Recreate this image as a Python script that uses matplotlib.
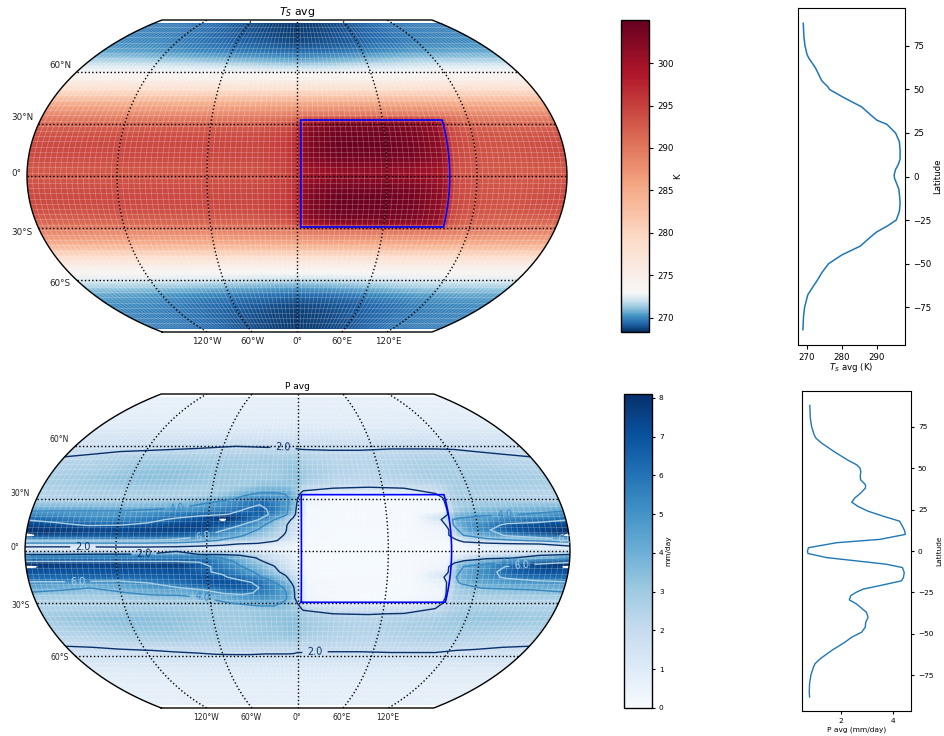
import numpy as np
import matplotlib
matplotlib.use("Agg")
import matplotlib.pyplot as plt
from matplotlib.colors import ListedColormap, Normalize
from matplotlib.cm import ScalarMappable
from matplotlib.patches import Polygon
from matplotlib.collections import LineCollection

W, H = 944, 736

# ---- zonal-mean profiles (lat, value) ----
TS_LAT = [88,80,75,70,68,62.4,55,51.4,50,45,40,35,32.3,30,25,20,15,10,7,4,1,-1,-4,-7,-10,-15,-20,-25,-28,-32,-35,-40,-45,-50,-55,-60,-63,-68,-75,-80,-88]
TS_AVG = [268.9,269.1,269.4,270,270.5,272.4,274.2,276,276.4,280.8,285.6,288.4,290,292.8,295.3,296.4,296.6,296.6,296.1,295.3,294.9,295,295.6,296.2,296.4,296.6,296.4,295.5,293.3,289.8,288,285.2,280,276.2,274.3,272.8,271.8,270.2,269.3,269,268.8]
P_LAT = [87.8,80,75,70,68,65,60,55,52,50,48,45,43,40,38,35,32,29.5,27,24,21,18,15,12,10,7,5,2,0,-1.5,-4,-6.2,-8,-10,-13,-16,-18,-20,-23,-25,-27,-29.5,-32,-37,-40,-43,-46,-49,-52,-55,-60,-65,-68,-70,-75,-80,-85,-88]
P_AVG = [0.8,0.82,0.87,0.97,1.04,1.26,1.73,2.24,2.6,2.73,2.76,2.74,2.75,2.94,2.94,2.76,2.53,2.41,2.64,3.04,3.62,4.25,4.36,4.45,4.47,3.49,1.83,0.75,0.71,0.73,1.45,2.73,3.75,4.36,4.43,4.4,4.32,3.75,2.85,2.57,2.37,2.32,2.6,2.98,3.04,2.95,2.93,2.79,2.41,2.15,1.64,1.2,1.0,0.94,0.84,0.79,0.78,0.79]

# ---- surface temperature field (K), northern half mirrored to the south ----
T_LONS = [-180,-140,-100,-60,-30,-10,-3,0,4,25,50,75,95,99,103,115,140,180]
T_LATS_N = [86.5,80,75,70,66,62,58,55,52,48,44,40,36,33,31,29,26,22,18,14,10,6,3,0]
T_NORTH = [
 [269.7,269.6,269.3,268.9,268.7,268.6,268.6,268.6,268.6,268.7,268.9,269.2,269.4,269.4,269.5,269.6,269.7,269.7],
 [269.9,269.8,269.5,269.1,268.8,268.7,268.7,268.7,268.7,268.8,269.1,269.3,269.5,269.6,269.6,269.7,269.8,269.9],
 [270.1,270.0,269.7,269.3,269.1,268.9,268.9,268.9,268.9,269.0,269.2,269.5,269.7,269.7,269.8,269.9,270.0,270.1],
 [270.6,270.5,270.2,269.9,269.7,269.5,269.5,269.5,269.5,269.6,269.9,270.2,270.4,270.4,270.5,270.5,270.6,270.6],
 [271.4,271.3,271.1,270.8,270.6,270.5,270.5,270.5,270.5,270.6,270.8,271.1,271.3,271.3,271.4,271.4,271.4,271.4],
 [272.5,272.4,272.3,272.1,271.9,271.8,271.8,271.8,271.8,271.9,272.1,272.2,272.4,272.4,272.4,272.5,272.5,272.5],
 [273.6,273.6,273.5,273.4,273.3,273.2,273.2,273.2,273.2,273.2,273.4,273.5,273.6,273.6,273.6,273.6,273.6,273.6],
 [274.5,274.5,274.4,274.3,274.2,274.2,274.2,274.2,274.2,274.2,274.3,274.4,274.5,274.5,274.5,274.5,274.5,274.5],
 [276.2,276.2,276.1,276.0,276.0,276.0,276.0,276.0,276.0,276.0,276.0,276.1,276.2,276.2,276.2,276.2,276.2,276.2],
 [278.8,278.8,278.7,278.7,278.7,278.7,278.7,278.7,278.7,278.7,278.7,278.7,278.8,278.8,278.8,278.8,278.8,278.8],
 [282.0,282.0,281.9,281.9,282.0,282.1,282.2,282.2,282.2,282.2,282.2,282.1,282.0,282.0,282.0,282.0,282.0,282.0],
 [285.1,285.0,285.0,285.0,285.2,285.4,285.5,285.6,285.6,285.6,285.6,285.5,285.4,285.4,285.3,285.2,285.1,285.1],
 [287.3,287.2,287.2,287.2,287.5,287.8,288.0,288.2,288.2,288.3,288.3,288.2,288.0,287.9,287.8,287.5,287.3,287.3],
 [288.8,288.7,288.7,288.8,289.0,289.4,289.8,290.0,290.3,290.5,290.5,290.4,290.2,290.0,289.8,289.2,288.9,288.8],
 [289.8,289.7,289.8,289.9,290.2,290.8,291.6,293.0,295.5,296.5,296.5,296.3,295.5,293.5,291.5,290.2,289.9,289.8],
 [291.0,291.0,291.1,291.2,291.5,292.5,294.0,296.0,299.0,301.5,301.5,301.0,299.8,296.0,292.8,291.3,290.9,291.0],
 [292.3,292.3,292.5,292.6,293.0,294.0,295.5,298.0,301.3,303.4,303.6,303.0,301.0,297.0,294.0,292.5,292.0,292.3],
 [293.4,293.4,293.6,293.8,294.0,295.0,296.5,299.0,302.2,304.2,304.2,303.5,301.5,297.5,294.5,293.2,292.8,293.4],
 [294.0,294.0,294.2,294.3,294.5,295.3,297.0,299.5,302.4,304.3,304.3,303.7,301.5,297.5,294.5,293.5,293.2,294.0],
 [294.1,294.1,294.2,294.3,294.5,295.3,297.0,299.5,302.4,304.3,304.3,303.7,301.5,297.5,294.5,293.5,293.2,294.1],
 [294.0,294.0,294.1,294.2,294.5,295.3,297.0,299.3,302.2,304.0,304.0,303.4,301.3,297.3,294.5,293.5,293.2,294.0],
 [293.5,293.5,293.6,293.7,294.0,295.0,296.5,298.8,301.3,302.9,302.9,302.4,300.6,297.0,294.2,293.2,293.0,293.5],
 [293.0,293.0,293.1,293.2,293.5,294.6,296.0,298.0,300.2,301.7,301.7,301.2,299.8,296.5,293.8,292.9,292.7,293.0],
 [292.8,292.8,292.9,293.0,293.3,294.3,295.8,297.5,299.4,300.6,300.8,300.3,299.2,296.0,293.5,292.7,292.5,292.8],
]

# ---- precipitation field (mm/day) ----
P_LONS = [-180,-160,-140,-120,-100,-80,-65,-50,-38,-26,-16,-8,-3,0,4,25,50,75,96,100,104,110,125,140,160,180]
P_LATS = [86.5,78,70,64,60,57,54,50,45,40,36,33,30,27,24,21,18,15,12,9,6,4,2,0,-2,-4,-6,-9,-12,-15,-18,-21,-24,-27,-30,-33,-36,-40,-45,-50,-54,-57,-60,-64,-70,-78,-89.5]
P_FIELD = [
 [0.75]*26,
 [0.85]*26,
 [1.0]*26,
 [1.45]*26,
 [1.6,1.65,1.7,1.8,1.85,1.9,1.95,2.0,1.98,1.95,1.95,1.95,1.9,1.9,1.85,1.85,1.85,1.9,1.9,1.9,1.9,1.9,1.85,1.8,1.7,1.6],
 [1.85,1.9,2.0,2.05,2.1,2.15,2.2,2.2,2.2,2.2,2.2,2.2,2.15,2.1,2.1,2.05,2.05,2.1,2.1,2.1,2.1,2.1,2.1,2.0,1.9,1.85],
 [2.0,2.1,2.3,2.4,2.5,2.5,2.5,2.5,2.5,2.6,2.5,2.6,2.5,2.4,2.4,2.2,2.2,2.3,2.4,2.4,2.4,2.4,2.3,2.2,2.1,2.0],
 [2.4,2.5,2.7,2.9,3.0,2.9,2.9,2.9,2.9,3.0,3.0,3.1,3.0,2.8,2.6,2.4,2.4,2.5,2.7,2.7,2.7,2.7,2.6,2.5,2.4,2.4],
 [2.6,2.7,2.9,3.2,3.3,3.2,3.1,3.0,2.9,2.9,3.0,3.2,3.2,3.1,2.9,2.5,2.4,2.6,2.8,2.8,2.8,2.8,2.8,2.8,2.7,2.6],
 [2.8,3.0,3.2,3.4,3.4,3.2,3.1,3.0,3.0,3.0,3.1,3.3,3.3,3.2,2.9,2.4,2.3,2.5,2.8,2.8,2.9,2.9,3.0,3.0,2.9,2.8],
 [2.7,2.8,3.0,3.1,3.1,3.0,2.9,2.9,2.9,3.3,3.3,3.2,3.1,2.7,2.3,2.0,1.95,2.0,2.2,2.4,2.6,2.8,2.9,2.9,2.8,2.7],
 [2.5,2.6,2.7,2.8,2.8,2.7,2.7,3.0,3.7,4.1,4.1,3.9,3.0,2.3,1.7,1.3,1.2,1.3,2.0,2.3,2.6,2.8,2.7,2.6,2.5,2.5],
 [2.4,2.5,2.6,2.6,2.6,2.6,2.8,3.6,4.3,4.7,4.7,4.3,3.2,2.0,0.4,0.15,0.15,0.2,0.5,1.9,2.5,2.7,2.6,2.5,2.4,2.4],
 [2.5,2.5,2.6,2.7,2.9,3.3,4.0,4.8,5.5,5.9,5.3,4.5,3.0,1.8,0.3,0.12,0.12,0.15,0.3,1.8,2.6,2.8,2.8,2.7,2.6,2.5],
 [3.7,3.7,3.7,3.7,3.9,4.2,4.8,5.3,5.9,6.5,5.5,4.4,2.8,1.6,0.25,0.1,0.1,0.12,0.3,1.7,2.6,2.9,3.2,3.4,3.6,3.7],
 [4.5,4.6,4.6,4.6,4.9,5.2,5.6,5.9,6.3,6.7,5.6,4.3,2.6,1.5,0.2,0.1,0.1,0.1,0.3,1.6,2.8,3.4,3.8,3.9,4.1,4.5],
 [5.9,5.4,5.0,5.0,5.5,6.4,7.0,8.15,7.0,6.0,4.1,2.8,1.7,1.0,0.2,0.1,0.1,0.1,1.9,3.0,4.0,4.3,4.5,4.7,5.0,5.9],
 [6.9,6.4,5.8,5.9,6.3,7.0,7.3,7.3,6.1,4.6,3.2,2.2,1.2,0.7,0.2,0.1,0.1,0.1,1.1,2.4,4.0,4.5,5.0,6.4,6.8,6.9],
 [7.7,7.5,7.3,7.2,7.4,7.7,7.5,6.1,5.0,3.9,2.9,2.1,1.3,0.6,0.2,0.1,0.1,0.1,0.5,1.7,3.5,4.6,5.7,7.1,7.4,7.7],
 [8.1,7.7,7.5,7.4,7.5,7.2,6.5,5.0,4.2,3.3,2.5,1.9,1.2,0.5,0.15,0.08,0.08,0.1,0.4,1.9,3.0,4.0,5.0,6.3,7.4,8.1],
 [5.9,5.9,5.9,5.9,5.9,5.6,4.9,3.8,3.3,2.8,2.2,1.6,0.9,0.4,0.15,0.08,0.08,0.1,0.3,0.8,1.5,2.6,3.4,3.7,4.3,5.5],
 [3.3,3.3,3.3,3.3,3.3,3.0,2.6,2.3,1.95,1.8,1.4,1.1,0.7,0.3,0.12,0.08,0.08,0.1,0.2,0.4,0.7,1.1,1.5,1.8,2.0,2.4],
 [1.7,1.7,1.7,1.8,1.8,1.7,1.6,1.5,1.3,1.1,0.9,0.7,0.4,0.2,0.1,0.07,0.07,0.08,0.12,0.2,0.4,0.6,0.9,1.1,1.3,1.7],
 [0.9,0.9,0.9,1.0,1.0,1.95,0.95,0.9,0.8,0.7,0.5,0.4,0.25,0.15,0.08,0.06,0.06,0.07,0.1,0.15,0.25,0.35,0.5,0.6,0.8,0.9],
 [2.0,2.0,2.1,2.1,2.1,2.4,2.0,1.95,1.7,1.2,0.9,0.6,0.4,0.2,0.1,0.07,0.07,0.08,0.12,0.2,0.4,0.7,1.1,1.4,1.8,2.0],
 [5.0,5.0,5.0,5.0,5.0,5.0,4.7,4.0,3.0,1.9,1.4,0.9,0.5,0.3,0.12,0.08,0.08,0.1,0.2,0.4,0.8,1.2,1.7,1.9,2.6,3.6],
 [6.0,6.0,6.0,6.0,6.0,6.0,5.9,4.7,3.6,2.2,1.6,1.1,0.6,0.4,0.15,0.08,0.08,0.1,0.3,0.8,1.5,2.2,3.1,3.6,4.5,5.5],
 [8.1,7.8,7.6,7.6,7.6,7.7,6.6,5.4,4.1,3.2,2.1,1.3,0.7,0.3,0.12,0.08,0.08,0.1,0.4,1.9,3.3,4.0,5.0,6.2,7.6,8.1],
 [7.3,7.2,7.1,7.2,7.2,7.2,6.3,5.7,4.8,3.7,2.4,1.6,0.9,0.4,0.15,0.08,0.08,0.1,0.6,1.9,3.6,4.2,5.4,6.6,7.3,7.3],
 [6.7,6.7,6.8,6.8,6.8,6.9,6.8,6.3,5.2,4.2,3.2,2.2,1.3,0.5,0.15,0.08,0.08,0.1,1.6,2.5,3.8,4.4,5.4,6.3,6.8,6.7],
 [5.9,5.9,5.8,5.7,6.1,6.5,6.9,7.0,6.6,5.6,4.1,2.9,1.7,0.9,0.2,0.1,0.1,0.15,1.0,2.0,3.5,4.2,4.7,5.1,5.6,5.9],
 [4.6,4.3,4.05,4.4,5.2,6.0,6.7,7.0,6.8,6.0,4.9,3.8,2.2,1.2,0.3,0.1,0.1,0.15,0.5,1.9,2.9,3.5,4.1,4.2,4.3,4.5],
 [3.9,3.7,3.4,3.9,4.3,4.4,4.9,6.2,6.4,5.8,5.0,4.1,2.4,1.2,0.3,0.1,0.1,0.15,0.4,1.8,2.7,3.1,3.3,3.4,3.6,3.9],
 [3.1,3.0,2.9,3.2,3.5,3.6,3.9,4.6,5.1,5.4,4.9,4.2,2.4,1.3,0.3,0.12,0.12,0.15,0.4,1.8,2.6,2.8,2.8,2.9,3.0,3.1],
 [2.5,2.5,2.5,2.6,2.8,2.9,3.1,3.8,4.2,4.5,4.3,3.7,2.7,2.0,0.5,0.15,0.15,0.2,0.6,2.0,2.5,2.6,2.5,2.5,2.5,2.5],
 [2.5,2.5,2.6,2.7,2.8,2.8,2.8,3.0,3.2,3.5,3.7,3.3,2.8,2.4,1.8,1.3,1.2,1.3,2.0,2.3,2.5,2.6,2.6,2.5,2.5,2.5],
 [2.7,2.8,2.9,3.0,3.1,3.0,2.9,2.9,3.0,3.1,3.2,3.1,3.0,2.8,2.4,2.0,1.95,2.05,2.3,2.4,2.6,2.8,2.9,2.9,2.8,2.7],
 [3.0,3.2,3.4,3.5,3.4,3.2,3.1,3.0,3.1,3.2,3.3,3.4,3.3,3.1,2.9,2.5,2.4,2.6,2.8,2.9,3.0,3.1,3.2,3.2,3.1,3.0],
 [2.7,2.9,3.1,3.3,3.3,3.1,3.0,2.9,3.0,3.1,3.2,3.4,3.3,3.2,3.0,2.6,2.5,2.7,2.8,2.9,2.9,3.0,3.0,2.9,2.8,2.7],
 [2.4,2.5,2.7,2.9,3.0,2.9,2.9,2.9,3.0,3.1,3.1,3.2,3.1,3.0,2.8,2.5,2.4,2.5,2.7,2.7,2.7,2.7,2.6,2.5,2.4,2.4],
 [2.05,2.1,2.3,2.4,2.5,2.5,2.5,2.5,2.6,2.6,2.5,2.6,2.5,2.4,2.4,2.3,2.2,2.3,2.4,2.4,2.4,2.4,2.3,2.2,2.1,2.05],
 [1.8,1.85,1.9,1.98,2.05,2.1,2.15,2.2,2.2,2.2,2.2,2.2,2.15,2.1,2.1,2.05,2.05,2.1,2.1,2.1,2.1,2.1,2.0,1.95,1.85,1.8],
 [1.6,1.65,1.7,1.75,1.85,1.9,1.95,1.95,1.95,1.9,1.9,1.9,1.9,1.85,1.85,1.85,1.85,1.85,1.85,1.85,1.85,1.85,1.8,1.75,1.7,1.6],
 [1.45]*26,
 [1.05]*26,
 [0.85]*26,
 [0.78]*26,
]

LAT_TICKS = [60, 30, 0, -30, -60]
LON_TICKS = [-120, -60, 0, 60, 120]
LON_LABELS = ["120°W", "60°W", "0°", "60°E", "120°E"]
LAT_LABELS = ["60°N", "30°N", "0°", "30°S", "60°S"]
CBAR_T_TICKS = [270, 275, 280, 285, 290, 295, 300]
CBAR_P_TICKS = [0, 1, 2, 3, 4, 5, 6, 7, 8]
T_MIN, T_MID, T_MAX = 268.35, 273.0, 305.06
P_MAX = 8.1
BOX_LON = (2.6, 101.8)
BOX_LAT = (-29.4, 32.3)
MESH_SHIFT = (2.6, 1.5)   # the filled mesh sits half a cell off its contours


def kav7(lon, lat):
    """Kavrayskiy VII projection, degrees in, radians out."""
    lam = np.radians(lon)
    phi = np.radians(lat)
    return 3 * lam / (2 * np.pi) * np.sqrt(np.pi ** 2 / 3 - phi ** 2), phi


def px_axes(x0, y0, x1, y1):
    return fig.add_axes([x0 / W, 1 - y1 / H, (x1 - x0) / W, (y1 - y0) / H])


def ftext(x, y, s, **kw):
    fig.text(x / W, 1 - y / H, s, **kw)


fig = plt.figure(figsize=(W / 100, H / 100), dpi=100)

frac = np.linspace(T_MIN, T_MAX, 512)
pos = np.where(frac < T_MID, 0.5 * (frac - T_MIN) / (T_MID - T_MIN),
               0.5 + 0.5 * (frac - T_MID) / (T_MAX - T_MID))
T_CMAP = ListedColormap(plt.get_cmap("RdBu_r")(pos))
T_NORM = Normalize(T_MIN, T_MAX)
P_NORM = Normalize(0, P_MAX)

XMAX = kav7(180.0, 0.0)[0]
YMAX = np.pi / 2


def draw_map(box, lons, lats, field, cmap, norm, seam_alpha):
    ax = px_axes(*box)
    ax.set_xlim(-XMAX, XMAX)
    ax.set_ylim(-YMAX, YMAX)
    ax.axis("off")
    # outline
    la = np.linspace(-90, 90, 181)
    ol = np.r_[np.full(181, -180.0), np.full(181, 180.0)]
    oa = np.r_[la, la[::-1]]
    ox, oy = kav7(ol, oa)
    clip = Polygon(np.c_[ox, oy], closed=True, transform=ax.transData, fc="none", ec="none")
    ax.add_patch(clip)
    # mesh, repeated once to the west to fill the shifted seam
    LO, LA = np.meshgrid(np.asarray(lons, float), np.asarray(lats, float))
    for off in (0.0, -360.0):
        X, Y = kav7(LO + MESH_SHIFT[0] + off, LA + MESH_SHIFT[1])
        m = ax.pcolormesh(X, Y, field, cmap=cmap, norm=norm, shading="gouraud", zorder=1)
        m.set_clip_path(clip)
    # cell seams of the model grid
    segs = []
    la2 = np.linspace(-88, 88, 60)
    for lo in np.arange(-180, 180, 3.75):
        segs.append(np.c_[kav7(np.full(60, lo), la2)])
    lo2 = np.linspace(-180, 180, 5)
    for a in np.arange(-88, 88.1, 3.0):
        segs.append(np.c_[kav7(lo2, np.full(5, a))])
    lc = LineCollection(segs, colors="white", linewidths=0.5, alpha=seam_alpha, zorder=2)
    ax.add_collection(lc)
    lc.set_clip_path(clip)
    # graticule
    for a in LAT_TICKS:
        gx, gy = kav7(np.array([-180.0, 180.0]), np.array([a, a], float))
        ax.plot(gx, gy, color="k", lw=1, ls=(0, (1, 1.65)), zorder=4)
    for lo in LON_TICKS:
        gx, gy = kav7(np.full(181, float(lo)), la)
        ax.plot(gx, gy, color="k", lw=1, ls=(0, (1, 1.65)), zorder=4)
    # box
    n = 60
    bl = np.r_[np.full(n, BOX_LON[0]), np.linspace(*BOX_LON, n), np.full(n, BOX_LON[1]), np.linspace(BOX_LON[1], BOX_LON[0], n)]
    ba = np.r_[np.linspace(*BOX_LAT, n), np.full(n, BOX_LAT[1]), np.linspace(BOX_LAT[1], BOX_LAT[0], n), np.full(n, BOX_LAT[0])]
    bx, by = kav7(bl, ba)
    ax.plot(bx, by, color="blue", lw=1.2, zorder=6)
    ax.plot(np.r_[ox, ox[0]], np.r_[oy, oy[0]], color="k", lw=1.0, zorder=7, clip_on=False)
    return ax


# ---- top row ----
t_lats = np.r_[T_LATS_N, [-a for a in T_LATS_N[-2:0:-1]], -89.5]
T_ARR = np.array(T_NORTH)
t_field = np.vstack([T_ARR, T_ARR[-2:0:-1], T_ARR[0]])
ax_t = draw_map((27, 20, 567, 332), T_LONS, t_lats, t_field, T_CMAP, T_NORM, 0.28)

# ---- bottom row ----
P_ARR = np.array(P_FIELD)
ax_p = draw_map((25, 394, 570, 708), P_LONS, P_LATS, P_ARR, "Blues", P_NORM, 0.28)
LO, LA = np.meshgrid(np.asarray(P_LONS, float), np.asarray(P_LATS, float))
CX, CY = kav7(LO, LA)
cs = ax_p.contour(CX, CY, P_ARR, levels=[2, 4, 6, 8], cmap="Blues_r", linewidths=1.0, zorder=5)
sc = 272.5 / XMAX
label_px = [(283, 446), (315, 652), (83, 547), (144, 554),
            (177, 505), (202, 600), (505, 512), (508, 563),
            (203, 535), (78, 580), (522, 566), (565, 537)]
manual = [((x - 297.5) / sc, (551 - y) / sc) for x, y in label_px]
for t in ax_p.clabel(cs, levels=[2, 4, 6], fmt="%.1f", fontsize=7, inline=True, manual=manual):
    t.set_zorder(8)

# ---- map labels ----
ftext(297, 12, "$T_S$ avg", ha="center", va="center", fontsize=7.8)
ftext(297, 386, "P avg", ha="center", va="center", fontsize=6.5)
for s, x, y in zip(LAT_LABELS, [71, 33, 21, 33, 71], [65, 118, 174, 232, 283]):
    ftext(x, y, s, ha="right", va="center", fontsize=6.3, color="#222222")
for s, x, y in zip(LAT_LABELS, [69, 30, 19, 30, 69], [440, 493, 548, 606, 658]):
    ftext(x, y, s, ha="right", va="center", fontsize=5.5, color="#222222")
for s, x in zip(LON_LABELS, [207, 252, 297, 342, 388]):
    ftext(x, 341, s, ha="center", va="center", fontsize=6.3, color="#222222")
    ftext(x - 1 if x < 297 else x, 717, s, ha="center", va="center", fontsize=5.5, color="#222222")

# ---- colourbars ----
cax = px_axes(621, 20, 649, 332)
cb = fig.colorbar(ScalarMappable(T_NORM, T_CMAP), cax=cax, ticks=CBAR_T_TICKS)
cb.ax.tick_params(labelsize=6.2, length=3, width=0.8, pad=3)
cb.set_label("K", fontsize=6.2, labelpad=3)
cb.ax.yaxis.set_label_coords((678 - 621) / 28, 0.5)
cb.ax.yaxis.label.set_verticalalignment("center")
cb.outline.set_linewidth(1.0)
cax = px_axes(624, 394, 652, 708)
cb = fig.colorbar(ScalarMappable(P_NORM, plt.get_cmap("Blues")), cax=cax, ticks=CBAR_P_TICKS)
cb.ax.tick_params(labelsize=5.3, length=2.5, width=0.8, pad=2.5)
cb.set_label("mm/day", fontsize=5.3)
cb.ax.yaxis.set_label_coords((668 - 624) / 28, 0.5)
cb.ax.yaxis.label.set_verticalalignment("center")
cb.outline.set_linewidth(1.0)

# ---- zonal-mean panels ----
a = px_axes(798, 8, 905, 345)
a.plot(TS_AVG, TS_LAT, color="C0", lw=1.1)
a.set_xlim(267.4, 298)
a.set_ylim(-96.8, 96.8)
a.yaxis.tick_right()
a.yaxis.set_label_position("right")
a.set_xticks([270, 280, 290])
a.set_yticks([-75, -50, -25, 0, 25, 50, 75])
a.tick_params(labelsize=6.2, length=3, width=0.8, pad=3)
a.set_xlabel("$T_S$ avg (K)", fontsize=6.2)
a.set_ylabel("Latitude", fontsize=6.2)
a.xaxis.set_label_coords(0.5, -(367 - 345) / 337)
a.xaxis.label.set_verticalalignment("center")
a.yaxis.set_label_coords((938 - 798) / 107, 0.5)
a.yaxis.label.set_verticalalignment("center")

a = px_axes(802, 391, 911, 711)
a.plot(P_AVG, P_LAT, color="C0", lw=1.0)
a.set_xlim(0.5, 4.69)
a.set_ylim(-96.5, 96.5)
a.yaxis.tick_right()
a.yaxis.set_label_position("right")
a.set_xticks([2, 4])
a.set_yticks([-75, -50, -25, 0, 25, 50, 75])
a.tick_params(labelsize=5.3, length=2.5, width=0.8, pad=2.5)
a.set_xlabel("P avg (mm/day)", fontsize=5.3)
a.set_ylabel("Latitude", fontsize=5.3)
a.xaxis.set_label_coords(0.5, -(730 - 711) / 320)
a.xaxis.label.set_verticalalignment("center")
a.yaxis.set_label_coords((939 - 802) / 109, 0.5)
a.yaxis.label.set_verticalalignment("center")

fig.savefig("out.png", dpi=100)
